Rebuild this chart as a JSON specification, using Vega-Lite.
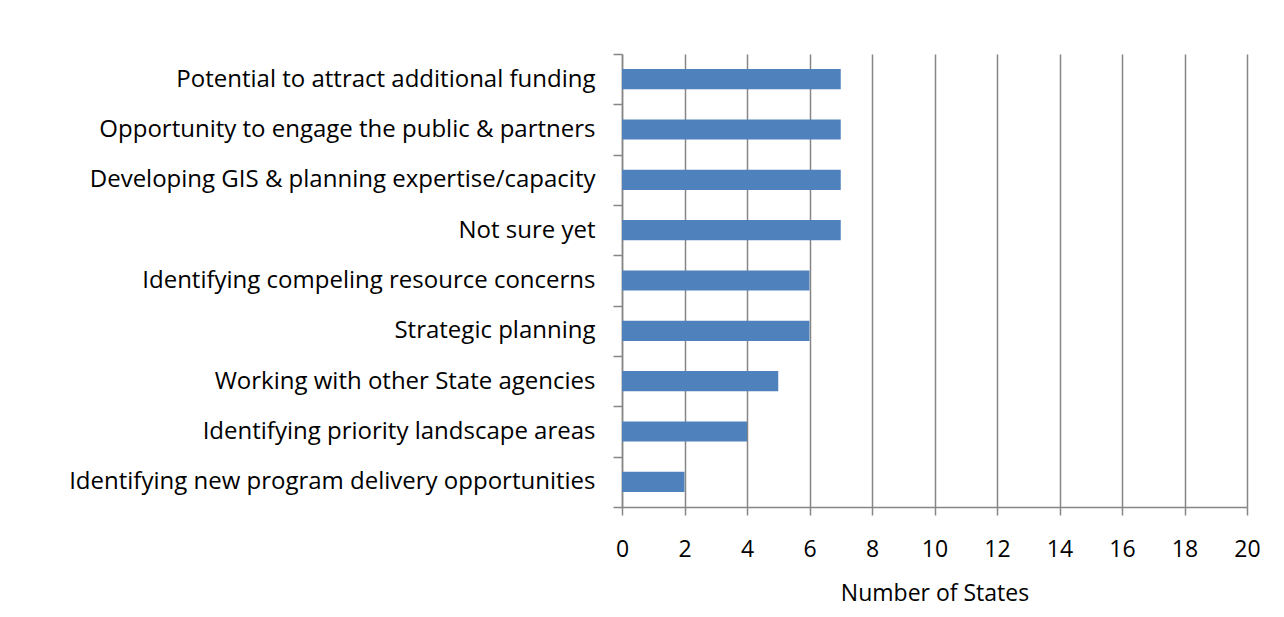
{
  "$schema": "https://vega.github.io/schema/vega-lite/v6.json",
  "width": 625,
  "height": 453,
  "autosize": "none",
  "padding": {"left": 622, "top": 54, "right": 37, "bottom": 110},
  "background": "white",
  "data": {"values": [
    {"reason": "Potential to attract additional funding", "states": 7},
    {"reason": "Opportunity to engage the public & partners", "states": 7},
    {"reason": "Developing GIS & planning expertise/capacity", "states": 7},
    {"reason": "Not sure yet", "states": 7},
    {"reason": "Identifying compeling resource concerns", "states": 6},
    {"reason": "Strategic planning", "states": 6},
    {"reason": "Working with other State agencies", "states": 5},
    {"reason": "Identifying priority landscape areas", "states": 4},
    {"reason": "Identifying new program delivery opportunities", "states": 2}
  ]},
  "mark": {"type": "bar", "color": "#4F81BD", "height": {"band": 0.4}},
  "encoding": {
    "y": {
      "field": "reason", "type": "nominal", "sort": null,
      "scale": {"paddingInner": 0, "paddingOuter": 0},
      "axis": {
        "title": null, "tickBand": "extent", "tickSize": 9, "tickColor": "#868686", "tickWidth": 1.5,
        "domainColor": "#868686", "domainWidth": 1.5, "labelPadding": 18,
        "labelFont": "Open Sans", "labelFontSize": 24, "labelColor": "black", "labelLimit": 700, "grid": false
      }
    },
    "x": {
      "field": "states", "type": "quantitative",
      "scale": {"domain": [0, 20], "nice": false},
      "axis": {
        "values": [0, 2, 4, 6, 8, 10, 12, 14, 16, 18, 20],
        "title": "Number of States", "titleFont": "Open Sans", "titleFontSize": 23, "titleFontWeight": "normal",
        "titleColor": "black", "titlePadding": 21,
        "labelFont": "Open Sans", "labelFontSize": 23, "labelColor": "black", "labelPadding": 23,
        "labelFlush": false, "labelOverlap": false,
        "tickSize": 8, "tickColor": "#868686", "tickWidth": 1.5,
        "domainColor": "#868686", "domainWidth": 1.5,
        "grid": true, "gridColor": "#868686", "gridWidth": 1.5
      }
    }
  },
  "config": {"view": {"stroke": null}}
}
